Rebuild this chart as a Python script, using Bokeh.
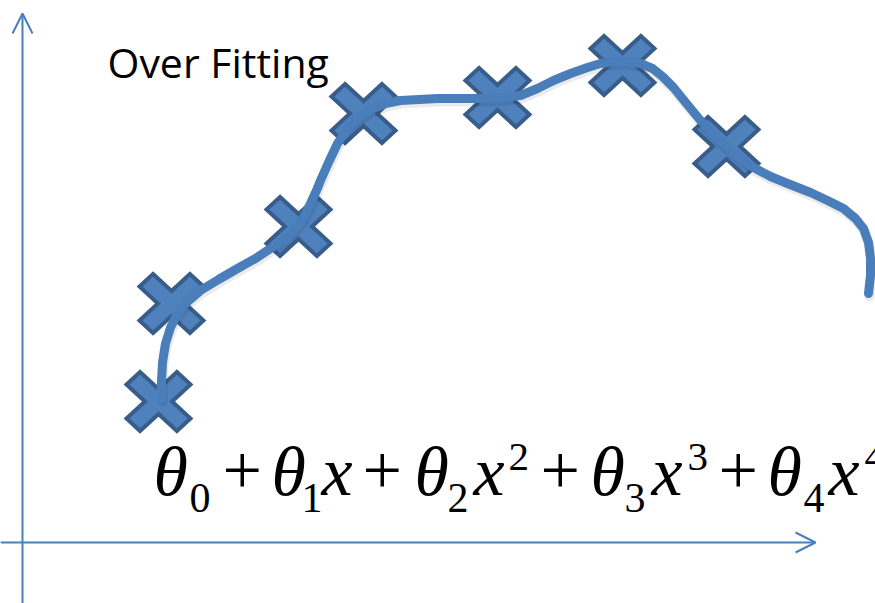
import math
from bokeh.plotting import figure
from bokeh.models import Range1d, Arrow, OpenHead
from bokeh.core.properties import value
from bokeh.embed import file_html
from bokeh.resources import INLINE

# Training samples (x, y) on a page-pixel scale, y growing downward
sample_x = [158, 171, 298, 363, 497, 622, 726]
sample_y = [401, 303, 226, 113, 97, 65, 146]

# Over-fitted curve traced through the samples
curve_x = [161, 161, 162, 165, 170, 177, 186, 200, 218, 237, 255, 270, 283, 293,
           303, 310, 316, 320, 328, 337, 347, 358, 370, 385, 400, 437, 487, 505,
           520, 537, 553, 570, 587, 600, 613, 627, 640, 652, 662, 673, 686, 700,
           713, 727, 740, 753, 770, 787, 810, 827, 843, 855, 863, 868, 870, 870,
           868]
curve_y = [398, 380, 362, 343, 327, 313, 302, 290, 279, 268, 258, 248, 240, 230,
           217, 203, 190, 180, 162, 143, 128, 117, 109, 103, 100, 98, 98, 97,
           95, 88, 80, 73, 67, 63, 61, 61, 63, 68, 76, 87, 103, 120,
           134, 147, 158, 167, 176, 183, 192, 200, 208, 218, 228, 242, 258, 275,
           293]

title_text = "Over Fitting"

# Hypothesis θ0 + θ1 x + θ2 x^2 + θ3 x^3 + θ4 x^4, split into pieces
italic_text = ["θ", "θ", "x", "θ", "x", "θ", "x", "θ", "x"]
italic_x = [153, 271, 321, 414, 473, 590, 651, 767, 828]
plus_text = ["+", "+", "+", "+"]
plus_x = [222, 362, 540, 718]
sub_text = ["0", "1", "2", "3", "4"]
sub_x = [189, 301, 447, 624, 803]
sup_text = ["2", "3", "4"]
sup_x = [508, 687, 864]

LINE = "#4A7EBB"
FILL = "#4F81BD"
EDGE = "#385D8A"

p = figure(width=875, height=603, x_range=Range1d(0, 875), y_range=Range1d(603, 0),
           output_backend="svg", toolbar_location=None, min_border=0,
           x_axis_location=None, y_axis_location=None)
p.grid.visible = False
p.outline_line_color = None
p.background_fill_color = "white"
p.border_fill_color = "white"

# Coordinate arrows
p.add_layout(Arrow(end=OpenHead(size=20, line_color=LINE, line_width=2),
                   x_start=22, y_start=603, x_end=22, y_end=13,
                   line_color=LINE, line_width=2))
p.add_layout(Arrow(end=OpenHead(size=20, line_color=LINE, line_width=2),
                   x_start=0, y_start=542, x_end=815, y_end=542,
                   line_color=LINE, line_width=2))

# Filled "X" shapes for the samples
def x_shape(cx, cy, sx=32.0, sy=29.5, h=0.30):
    L = math.sqrt(2) - h
    r = math.sqrt(2)
    pts = [(0, h * r),
           ((L - h) / r, (L + h) / r), ((L + h) / r, (L - h) / r),
           (h * r, 0),
           ((L + h) / r, -(L - h) / r), ((L - h) / r, -(L + h) / r),
           (0, -h * r),
           (-(L - h) / r, -(L + h) / r), (-(L + h) / r, -(L - h) / r),
           (-h * r, 0),
           (-(L + h) / r, (L - h) / r), (-(L - h) / r, (L + h) / r)]
    m = max(abs(a) for a, _ in pts)
    return ([cx + a / m * sx for a, _ in pts], [cy + b / m * sy for _, b in pts])

xs, ys = [], []
for cx, cy in zip(sample_x, sample_y):
    a, b = x_shape(cx, cy)
    xs.append(a)
    ys.append(b)
p.patches(xs, ys, fill_color=FILL, line_color=EDGE, line_width=4, line_join="miter")

# Curve with a soft drop shadow
p.line([x + 1 for x in curve_x], [y + 3 for y in curve_y], line_color="black",
       line_alpha=0.08, line_width=10, line_join="round", line_cap="round")
p.line(curve_x, curve_y, line_color=LINE, line_width=9, line_join="round",
       line_cap="round")

# Text helper: y is the wanted baseline; bokeh's box sits ~0.42em lower
def label(xv, yv, texts, size, font, style="normal"):
    p.text(x=xv, y=[yv - 0.42 * size] * len(xv), text=texts, text_font=value(font),
           text_font_style=style, text_font_size=f"{size}px", text_color="black",
           text_baseline="alphabetic", text_align="left")

label([107], 79, [title_text], 41, "Open Sans")
label(italic_x, 500, italic_text, 70, "Liberation Serif", "italic")
label(plus_x, 500, plus_text, 70, "Liberation Serif")
label(sub_x, 515, sub_text, 42, "Liberation Serif")
label(sup_x, 474, sup_text, 41, "Liberation Serif")

open("out.html", "w").write(file_html(p, INLINE))
